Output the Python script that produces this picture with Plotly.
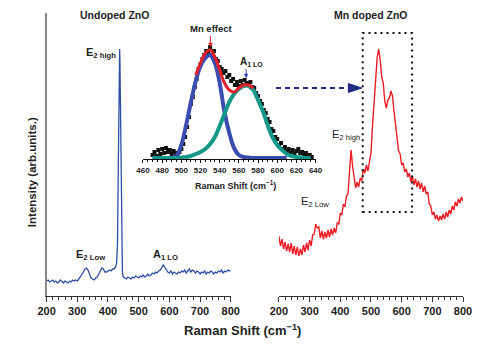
import plotly.graph_objects as go

# ---------------- data ----------------
# Undoped ZnO Raman spectrum (left panel), arbitrary units
blue_x = list(range(200, 426, 5)) + [428, 431, 433, 435, 437, 438, 439, 441, 443, 445, 447, 449] + list(range(450, 801, 5))
blue_y = [15, 16, 14, 15, 16, 14, 15, 13, 14, 16,
          14, 13, 15, 14, 13, 15, 14, 16, 15, 16,
          15, 17, 19, 21, 24, 27, 28, 26, 21, 18,
          17, 16, 18, 19, 22, 25, 28, 27, 24, 24,
          25, 26, 25, 27, 27, 29,
          33, 52, 110, 200, 240, 247, 236, 170, 90, 40, 24, 20,
          19, 18, 17, 19, 18, 17, 19, 18, 20, 19,
          18, 20, 19, 21, 19, 20, 22, 20, 21, 23,
          22, 24, 23, 25, 26, 28, 31, 29, 26, 24,
          23, 25, 22, 24, 23, 22, 24, 23, 25, 24,
          26, 23, 25, 27, 24, 26, 25, 23, 25, 24,
          22, 24, 23, 25, 22, 24, 23, 25, 24, 22,
          24, 23, 25, 24, 26, 23, 25, 24, 26, 25,
          26]

# Mn doped ZnO Raman spectrum (right panel)
red_x = list(range(200, 801, 5))
red_y = [60, 50, 57, 47, 54, 45, 52, 44, 53, 42,
         50, 41, 49, 40, 47, 41, 51, 44, 53, 46,
         56, 50, 61, 62, 72, 68, 69, 58, 65, 57,
         64, 58, 66, 59, 67, 61, 68, 63, 73, 72,
         83, 81, 92, 89, 100, 102, 124, 146, 130, 119,
         108, 114, 109, 118, 115, 127, 123, 131, 125, 134,
         143, 170, 192, 213, 238, 247, 236, 219, 213, 195,
         188, 196, 198, 205, 200, 185, 170, 160, 145, 142,
         131, 133, 124, 127, 119, 123, 114, 120, 111, 117,
         109, 115, 107, 113, 104, 110, 102, 104, 92, 90,
         81, 84, 77, 81, 75, 80, 76, 82, 77, 84,
         79, 86, 82, 90, 86, 94, 90, 97, 93, 99,
         95]

# Inset: measured points and two-peak fit
pts_x = list(range(470, 637, 2))
pts_y = [4, 7, 3, 9, 5, 10, 6, 11, 7, 9, 5, 8, 6, 4, 7,
         10, 15, 22, 32, 42, 55, 62, 72, 80, 90,
         95, 100, 104, 108, 106, 112, 104, 108, 100, 98,
         92, 90, 86, 88, 82, 84, 78, 80, 74, 77,
         73, 78, 74, 79, 76, 75, 77, 72, 71, 66,
         63, 58, 55, 49, 46, 40, 37, 30, 28, 22,
         20, 14, 16, 10, 12, 8, 10, 6, 9, 5, 8, 10, 6, 7, 4, 6, 3, 4, 2]

fitb_x = list(range(470, 611, 5))
fitb_y = [1, 1, 1, 1, 1, 3, 14, 34, 57, 78, 93, 101, 104, 96, 76, 47, 26, 11, 4, 2,
          1.5, 1, 1, 1, 1, 1, 1, 1, 1]

fitg_x = list(range(470, 636, 5))
fitg_y = [1, 1, 1, 1, 1, 1, 1.5, 2, 3, 5, 7, 10, 15, 22, 33, 45, 57, 65, 70, 73,
          73, 69, 59, 48, 34, 22, 14, 9, 5, 3, 2, 1.5, 1, 1]

fitr_x = list(range(515, 576, 5))
fitr_y = [84, 96, 106, 109, 102, 89, 76, 69, 67, 71, 74, 74, 71]

xticks_main = [200, 300, 400, 500, 600, 700, 800]
xticks_inset = [460, 480, 500, 520, 540, 560, 580, 600, 620, 640]

FONT = "Liberation Sans"
W, H = 500, 354


def px(x):
    return x / W


def py(y):
    return 1 - y / H


fig = go.Figure()

fig.add_trace(go.Scatter(x=blue_x, y=blue_y, mode="lines", xaxis="x", yaxis="y",
                         line=dict(color="#2f4ea6", width=1.3), showlegend=False))
fig.add_trace(go.Scatter(x=red_x, y=red_y, mode="lines", xaxis="x2", yaxis="y2",
                         line=dict(color="#ec1c24", width=1.4), showlegend=False))

fig.add_trace(go.Scatter(x=pts_x, y=pts_y, mode="markers", xaxis="x3", yaxis="y3",
                         marker=dict(symbol="square", size=4, color="#111"), showlegend=False))
fig.add_trace(go.Scatter(x=fitb_x, y=fitb_y, mode="lines", xaxis="x3", yaxis="y3",
                         line=dict(color="#3b4cb0", width=4, shape="spline"), showlegend=False))
fig.add_trace(go.Scatter(x=fitg_x, y=fitg_y, mode="lines", xaxis="x3", yaxis="y3",
                         line=dict(color="#15978a", width=4, shape="spline"), showlegend=False))
fig.add_trace(go.Scatter(x=fitr_x, y=fitr_y, mode="lines", xaxis="x3", yaxis="y3",
                         line=dict(color="#e3202a", width=3, shape="spline"), showlegend=False))

ydom = [py(296), py(13)]
main_x = dict(range=[200, 800], showline=True, linecolor="#333", linewidth=1.3,
              ticks="outside", ticklen=5, tickwidth=1.2, tickcolor="#333",
              tickvals=xticks_main, ticktext=[str(v) for v in xticks_main],
              minor=dict(dtick=20, tick0=200, ticks="outside", ticklen=3, tickcolor="#333", tickwidth=1),
              tickfont=dict(family=FONT, size=11, color="#222", weight="bold"),
              showgrid=False, zeroline=False, fixedrange=True)

fig.update_layout(
    width=W, height=H, margin=dict(l=0, r=0, t=0, b=0), autosize=False,
    paper_bgcolor="white", plot_bgcolor="rgba(0,0,0,0)",
    xaxis=dict(main_x, domain=[px(39), px(230)], anchor="y"),
    yaxis=dict(domain=ydom, range=[0, 283], showline=True, linecolor="#888", linewidth=1.5,
               showticklabels=False, ticks="", showgrid=False, zeroline=False, anchor="x"),
    xaxis2=dict(main_x, domain=[px(280), px(471)], anchor="y2"),
    yaxis2=dict(domain=ydom, range=[0, 283], visible=False, anchor="x2"),
    xaxis3=dict(domain=[px(139), px(318)], range=[460, 640], anchor="y3",
                showline=True, linecolor="#111", linewidth=1,
                ticks="outside", ticklen=3, tickcolor="#111",
                tickvals=xticks_inset, ticktext=[str(v) for v in xticks_inset],
                minor=dict(dtick=5, tick0=460, ticks="outside", ticklen=2, tickcolor="#111"),
                tickfont=dict(family=FONT, size=8, color="#222", weight="bold"),
                showgrid=False, zeroline=False),
    yaxis3=dict(domain=[py(159), py(39)], range=[0, 120], visible=False, anchor="x3"),
)

bold = dict(family=FONT, color="#222", weight="bold")
ann = [
    dict(text="Undoped ZnO", xref="paper", yref="paper", x=px(109), y=py(15), font=dict(bold, size=10.5)),
    dict(text="Mn doped ZnO", xref="paper", yref="paper", x=px(375), y=py(15), font=dict(bold, size=10.5)),
    dict(text="E<sub>2 high</sub>", xref="x", yref="y", x=376, y=243, font=dict(bold, size=11)),
    dict(text="E<sub>2 Low</sub>", xref="x", yref="y", x=344, y=41, font=dict(bold, size=11)),
    dict(text="A<sub>1 LO</sub>", xref="x", yref="y", x=588, y=41, font=dict(bold, size=11)),
    dict(text="E<sub>2 high</sub>", xref="x2", yref="y2", x=418, y=161,
         font=dict(family=FONT, size=11, color="#222")),
    dict(text="E<sub>2 Low</sub>", xref="x2", yref="y2", x=319, y=94,
         font=dict(family=FONT, size=11, color="#222")),
    dict(text="Mn effect", xref="paper", yref="paper", x=px(210), y=py(29), font=dict(bold, size=9.5)),
    dict(text="A<sub>1 LO</sub>", xref="paper", yref="paper", x=px(252), y=py(62), font=dict(bold, size=10)),
    dict(text="Raman Shift (cm<sup>−1</sup>)", xref="paper", yref="paper", x=px(235), y=py(185),
         font=dict(bold, size=9)),
    dict(text="Raman Shift (cm<sup>−1</sup>)", xref="paper", yref="paper", x=px(242), y=py(330),
         font=dict(bold, size=13)),
    dict(text="Intensity (arb.units.)", xref="paper", yref="paper", x=px(24), y=py(172),
         textangle=-90, font=dict(bold, size=11.5)),
]
for a in ann:
    a["showarrow"] = False
    a["xanchor"] = "center"
    a["yanchor"] = "middle"
fig.update_layout(annotations=ann)


def small_arrow(x, y_top, y_tip, color):
    return [
        dict(type="line", xref="paper", yref="paper", x0=px(x), x1=px(x), y0=py(y_top), y1=py(y_tip - 3),
             line=dict(color=color, width=1)),
        dict(type="path", xref="paper", yref="paper",
             path=f"M {px(x - 2)} {py(y_tip - 4)} L {px(x)} {py(y_tip)} L {px(x + 2)} {py(y_tip - 4)} Z",
             fillcolor=color, line=dict(color=color, width=0.5)),
    ]


shapes = [
    dict(type="rect", xref="x2", yref="y2", x0=473, x1=634, y0=84, y1=263,
         line=dict(color="#111", width=2, dash="2px,4px")),
    dict(type="line", xref="paper", yref="paper", x0=px(277), x1=px(354), y0=py(88), y1=py(88),
         line=dict(color="#1f2a86", width=2, dash="5px,4px")),
    dict(type="path", xref="paper", yref="paper",
         path=f"M {px(352)} {py(83.5)} L {px(366)} {py(88)} L {px(352)} {py(92.5)} Z",
         fillcolor="#1f2a86", line=dict(color="#1f2a86", width=1)),
]
shapes += small_arrow(209, 36, 47, "#e3202a")
shapes += small_arrow(246, 69, 78, "#3b4cb0")
fig.update_layout(shapes=shapes)

fig.write_html("out.html")
